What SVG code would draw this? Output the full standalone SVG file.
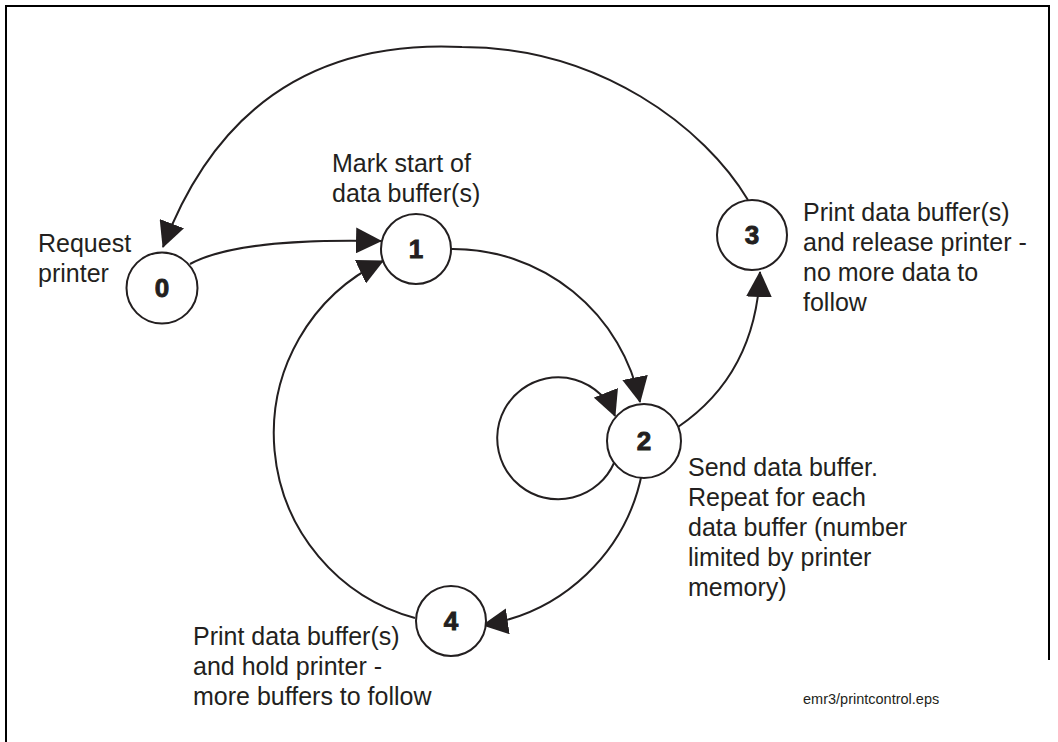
<svg xmlns="http://www.w3.org/2000/svg" width="1058" height="742" viewBox="0 0 1058 742">
<style>
.node circle{fill:#fff;stroke:#231f20;stroke-width:2}
.num{font-family:"Liberation Sans",Arial,sans-serif;font-weight:bold;font-size:26px;fill:#231f20;stroke:#231f20;stroke-width:0.9;text-anchor:middle}
.lbl{font-family:"Liberation Sans",Arial,sans-serif;font-size:25px;fill:#231f20}
.small{font-family:"Liberation Sans",Arial,sans-serif;font-size:14.5px;fill:#231f20}
.edge{fill:none;stroke:#231f20;stroke-width:2;marker-end:url(#arr)}
</style>
<defs>
<marker id="arr" markerUnits="userSpaceOnUse" markerWidth="26" markerHeight="26" viewBox="0 0 26 26" refX="25" refY="13" orient="auto">
<path d="M0,0 L26,13 L0,26 Z" fill="#231f20"/>
</marker>
</defs>
<rect width="1058" height="742" fill="#fff"/>
<path d="M6,742 V6 H1049 V660" fill="none" stroke="#000" stroke-width="2"/>
<g id="connectors">
<path class="edge" d="M190,264 C225,245 290,239 381,241"/>
<path class="edge" d="M451,249 A191,191 0 0 1 640,402"/>
<path class="edge" d="M642,473 A191,191 0 0 1 483,625"/>
<path class="edge" d="M415,618 A191,191 0 0 1 383,261"/>
<path class="edge" d="M614,463 A61,61 0 1 1 615,416"/>
<path class="edge" d="M678,427 C725,395 757,345 760,272"/>
<path class="edge" d="M748,200 C705,128 600,47 462,47 C360,42 230,70 163,247"/>
</g>
<g id="node0" class="node"><circle cx="162" cy="288" r="35.5"/><text class="num" x="162" y="297">0</text></g>
<g id="node1" class="node"><circle cx="416" cy="249" r="35"/><text class="num" x="416" y="258">1</text></g>
<g id="node2" class="node"><circle cx="644" cy="441" r="37"/><text class="num" x="644" y="450">2</text></g>
<g id="node3" class="node"><circle cx="752" cy="235" r="35"/><text class="num" x="752" y="244">3</text></g>
<g id="node4" class="node"><circle cx="451" cy="621" r="35"/><text class="num" x="451" y="630">4</text></g>
<g id="labels">
<text class="lbl" x="38" y="252">Request</text>
<text class="lbl" x="38" y="282">printer</text>
<text class="lbl" x="332" y="172">Mark start of</text>
<text class="lbl" x="332" y="202">data buffer(s)</text>
<text class="lbl" x="803" y="221">Print data buffer(s)</text>
<text class="lbl" x="803" y="251">and release printer -</text>
<text class="lbl" x="803" y="281">no more data to</text>
<text class="lbl" x="803" y="311">follow</text>
<text class="lbl" x="688" y="476">Send data buffer.</text>
<text class="lbl" x="688" y="506">Repeat for each</text>
<text class="lbl" x="688" y="536">data buffer (number</text>
<text class="lbl" x="688" y="566">limited by printer</text>
<text class="lbl" x="688" y="596">memory)</text>
<text class="lbl" x="193" y="645">Print data buffer(s)</text>
<text class="lbl" x="193" y="675">and hold printer -</text>
<text class="lbl" x="193" y="705">more buffers to follow</text>
<text class="small" x="803" y="704">emr3/printcontrol.eps</text>
</g>
</svg>
